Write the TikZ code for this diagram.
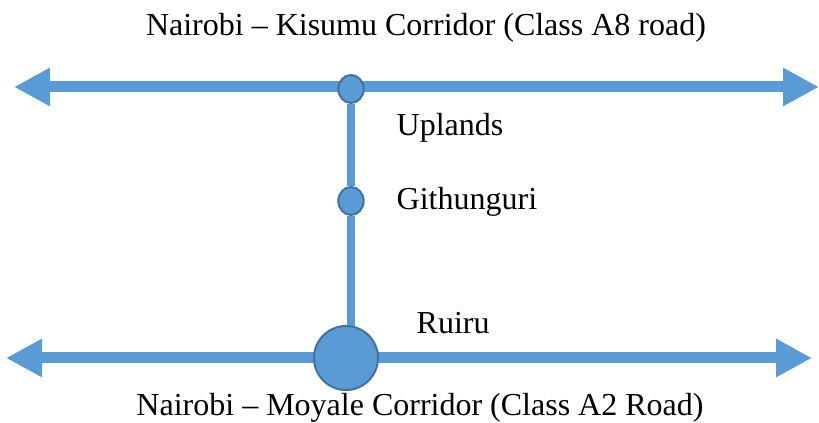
\documentclass[tikz,border=0pt]{standalone}
\usepackage{fontspec}
\setmainfont{Liberation Serif}
\usetikzlibrary{arrows.meta,shapes.geometric,backgrounds}
\definecolor{roadblue}{HTML}{5B9BD5}
\definecolor{rimblue}{HTML}{41719C}
\tikzset{road/.style={roadblue, line width=8.25pt, {Triangle[length=27pt,width=27pt]}-{Triangle[length=27pt,width=27pt]}}}
\tikzset{spur/.style={roadblue, line width=6pt}}
\tikzset{town/.style={ellipse, draw=rimblue, line width=1.5pt, fill=roadblue, minimum width=19pt, minimum height=21pt, inner sep=0pt}}
\tikzset{label/.style={font=\fontsize{24}{28}\selectfont}}

\begin{document}
\begin{tikzpicture}[x=0.75pt,y=-0.75pt]
		\useasboundingbox (0,0) rectangle (819,423);
		
		\coordinate (kwest) at (14,87);
		\coordinate (keast) at (819,87);
		\coordinate (mwest) at (6,358);
		\coordinate (meast) at (812,358);
		
		\node[town] (uplandsjn) at (351,89) {};
		\node[town] (githunguri) at (351,201) {};
		\node[town, circle, minimum size=48pt] (ruiru) at (346,358) {};
		
		\begin{scope}[on background layer]
		\draw[road] (kwest) -- (keast);
		\draw[road] (mwest) -- (meast);
		\draw[spur] (uplandsjn) -- (githunguri) -- (githunguri |- ruiru);
		\end{scope}
		
		\node[label] (ktitle) at (426,28) {Nairobi – Kisumu Corridor (Class A8 road)};
		\node[label, right] (uplands) at (392,128) {Uplands};
		\node[label, right] (githungurilbl) at (392,202) {Githunguri};
		\node[label, right] (ruirulbl) at (412,323) {Ruiru};
		\node[label] (mtitle) at (420,408) {Nairobi – Moyale Corridor (Class A2 Road)};
	\end{tikzpicture}
\end{document}
